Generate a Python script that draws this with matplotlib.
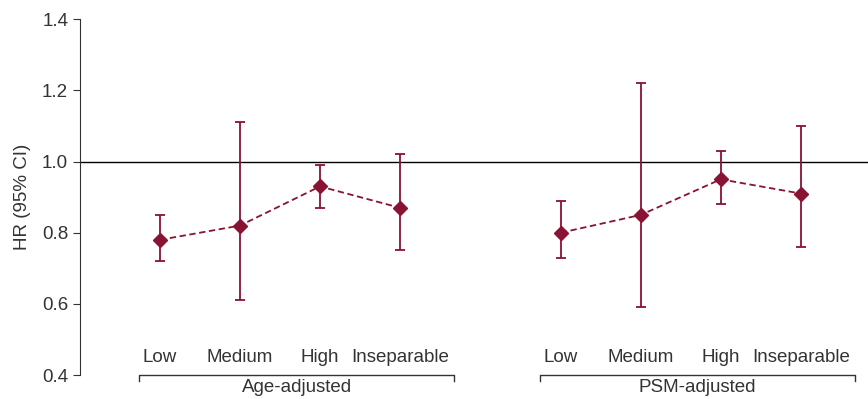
import matplotlib.pyplot as plt
import numpy as np

plt.rcParams["font.family"] = ["Liberation Sans", "DejaVu Sans"]

categories = ["Low", "Medium", "High", "Inseparable"]
groups = ["Age-adjusted", "PSM-adjusted"]

age_hr = [0.78, 0.82, 0.93, 0.87]
age_lo = [0.72, 0.61, 0.87, 0.75]
age_hi = [0.85, 1.11, 0.99, 1.02]

psm_hr = [0.80, 0.85, 0.95, 0.91]
psm_lo = [0.73, 0.59, 0.88, 0.76]
psm_hi = [0.89, 1.22, 1.03, 1.10]

color = "#8a1232"
text_color = "#333333"

fig = plt.figure(figsize=(8.68, 3.99), dpi=100)
ax = fig.add_axes([0.0922, 0.060, 0.9078, 0.892])

series = [(age_hr, age_lo, age_hi), (psm_hr, psm_lo, psm_hi)]
for g, (hr, lo, hi) in enumerate(series):
    x = np.arange(1, 5) + g * 5.01
    hr = np.array(hr)
    yerr = [hr - np.array(lo), np.array(hi) - hr]
    ax.errorbar(x, hr, yerr=yerr, fmt="none", ecolor=color, elinewidth=1.3,
                capsize=3.5, capthick=1.3, zorder=3)
    ax.plot(x, hr, color=color, linestyle=(0, (3.5, 2)), linewidth=1.3,
            marker="D", markersize=7, zorder=4)
    for xi, cat in zip(x, categories):
        ax.text(xi, 0.45, cat, ha="center", va="center", fontsize=13.5,
                color=text_color)
    # group bracket below the axis
    left, right = x[0] - 0.26, x[-1] + 0.68
    ax.plot([left, left, right, right], [0.384, 0.40, 0.40, 0.384],
            color=text_color, linewidth=1, clip_on=False)
    ax.text((left + right) / 2, 0.365, groups[g], ha="center", va="center",
            fontsize=13.5, color=text_color, clip_on=False)

ax.axhline(1.0, color="black", linewidth=1)

ax.set_xlim(0, 9.85)
ax.set_ylim(0.4, 1.4)
ax.set_yticks(np.arange(0.4, 1.41, 0.2))
ax.set_yticklabels([f"{v:.1f}" for v in np.arange(0.4, 1.41, 0.2)])
ax.set_xticks([])
ax.tick_params(axis="y", labelsize=13.5, colors=text_color, length=5,
               direction="out")
ax.set_ylabel("HR (95% CI)", fontsize=13.5, color=text_color, labelpad=8)

for side in ["top", "right", "bottom"]:
    ax.spines[side].set_visible(False)
ax.spines["left"].set_color(text_color)

fig.savefig("out.png", dpi=100)
